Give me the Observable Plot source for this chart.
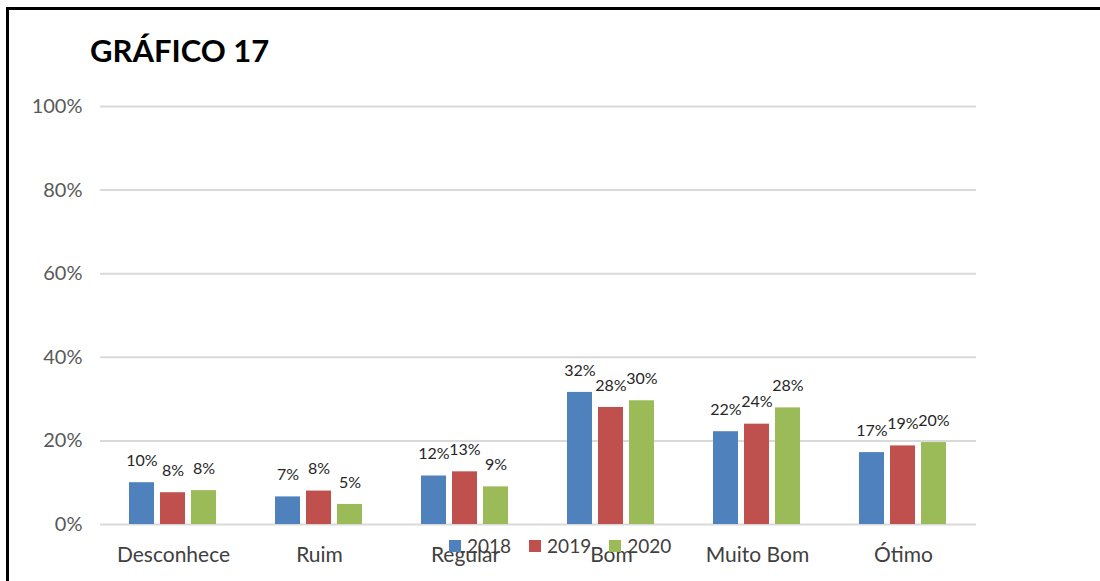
<!DOCTYPE html>
<html>
<head>
<meta charset="utf-8">
<script src="https://cdn.jsdelivr.net/npm/d3@7"></script>
<script src="https://cdn.jsdelivr.net/npm/@observablehq/plot@0.6"></script>
<style>
  html, body { margin: 0; padding: 0; background: #fff; }
  #wrap { position: relative; width: 1100px; height: 581px; overflow: hidden; background: #fff; font-family: Lato, "Open Sans", sans-serif; }
  #frame { position: absolute; left: 6px; top: 7px; width: 1200px; height: 700px; border-left: 3px solid #000; border-top: 3px solid #000; box-sizing: border-box; }
  #title { position: absolute; left: 90px; top: 35px; font-size: 31px; line-height: 1; font-weight: bold; color: #000; }
  #chart { position: absolute; left: 0; top: 0; }
  #legend { position: absolute; left: 449px; top: 536px; display: flex; align-items: center; height: 19px; font-size: 19px; line-height: 19px; color: #404040; }
  #legend .sw { width: 12px; height: 12px; margin-right: 6px; }
  #legend .it { display: flex; align-items: center; margin-right: 18px; }
</style>
</head>
<body>
<div id="wrap">
  <div id="frame"></div>
  <div id="chart"></div>
  <div id="title">GRÁFICO 17</div>
  <div id="legend"></div>
</div>
<script>
const categories = ["Desconhece", "Ruim", "Regular", "Bom", "Muito Bom", "Ótimo"];
const years = ["2018", "2019", "2020"];
const v2018 = [0.100, 0.066, 0.116, 0.316, 0.222, 0.172];
const v2019 = [0.076, 0.080, 0.126, 0.280, 0.240, 0.188];
const v2020 = [0.081, 0.048, 0.090, 0.296, 0.279, 0.196];
const yTicks = [0, 0.2, 0.4, 0.6, 0.8, 1.0];
const colors = ["#4F81BD", "#C0504D", "#9BBB59"];

const series = [v2018, v2019, v2020];
const rows = categories.flatMap((c, i) => years.map((y, j) => ({category: c, year: y, value: series[j][i]})));
const pct = d3.format(".0%");

const chart = Plot.plot({
  width: 1100,
  height: 581,
  marginLeft: 98,
  marginRight: 122,
  marginTop: 106,
  marginBottom: 57,
  style: {fontFamily: "Lato, 'Open Sans', sans-serif", background: "transparent", overflow: "visible"},
  fx: {domain: categories, padding: 0, tickSize: 0, tickPadding: 23, label: null},
  x: {domain: years, paddingInner: 0.19, paddingOuter: 0.88, axis: null},
  y: {domain: [0, 1], ticks: yTicks, tickFormat: ".0%", tickSize: 0, tickPadding: 18, label: null},
  color: {domain: years, range: colors},
  marks: [
    Plot.ruleY(yTicks, {stroke: "#d9d9d9", strokeWidth: 2}),
    Plot.barY(rows, {fx: "category", x: "year", y: "value", fill: "year"}),
    Plot.text(rows, {fx: "category", x: "year", y: "value", text: d => pct(d.value), dy: -22, fontSize: 16, fill: "#262626"})
  ]
});
document.getElementById("chart").appendChild(chart);

// style axes text
d3.select(chart).selectAll("[aria-label='y-axis tick label'] text, [aria-label='y-axis'] text").attr("font-size", 20).attr("fill", "#595959");
d3.select(chart).selectAll("[aria-label='fx-axis tick label'] text, [aria-label='fx-axis'] text").attr("font-size", 21).attr("fill", "#404040");

const legend = d3.select("#legend");
years.forEach((y, i) => {
  const it = legend.append("div").attr("class", "it");
  it.append("div").attr("class", "sw").style("background", colors[i]);
  it.append("span").text(y);
});
</script>
</body>
</html>
